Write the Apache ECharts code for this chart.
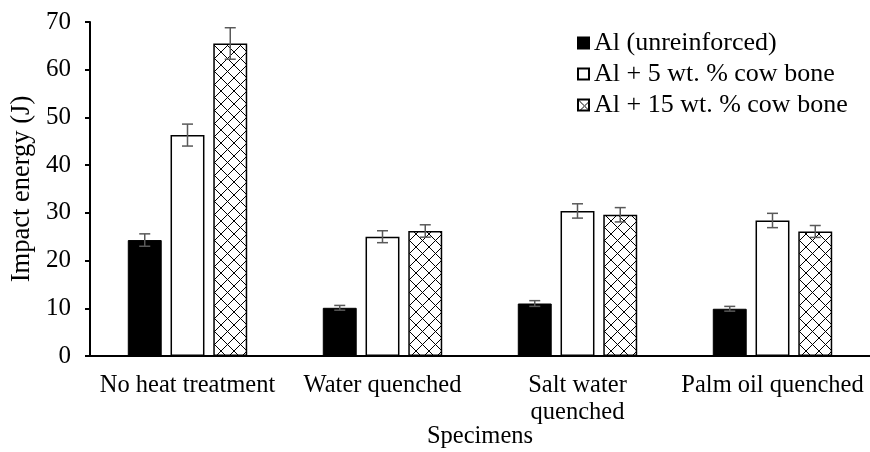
<!DOCTYPE html>
<html>
<head>
<meta charset="utf-8">
<script src="https://cdn.jsdelivr.net/npm/echarts@6/dist/echarts.min.js"></script>
<style>html,body{margin:0;padding:0;background:#fff;}#c{width:870px;height:452px;}</style>
</head>
<body>
<div id="c"></div>
<script>
var categories = ['No heat treatment', 'Water quenched', 'Salt water\nquenched', 'Palm oil quenched'];
var seriesNames = ['Al (unreinforced)', 'Al + 5 wt. % cow bone', 'Al + 15 wt. % cow bone'];
var alValues = [24.3, 10.1, 11.0, 9.9];
var al5Values = [46.3, 25.0, 30.4, 28.4];
var al15Values = [65.5, 26.2, 29.6, 26.1];
var alErr = [1.3, 0.5, 0.6, 0.5];
var al5Err = [2.3, 1.25, 1.5, 1.5];
var al15Err = [3.3, 1.3, 1.5, 1.25];
var yTicks = [0, 10, 20, 30, 40, 50, 60, 70];

var FONT = 'Liberation Serif';
var BAR_PCT = 17.4;
var GAP = 0.26;

// crosshatch pattern
var pat = document.createElement('canvas');
pat.width = 13; pat.height = 13;
var pc = pat.getContext('2d');
pc.fillStyle = '#fff'; pc.fillRect(0, 0, 13, 13);
pc.strokeStyle = '#000'; pc.lineWidth = 1;
pc.beginPath();
pc.moveTo(0, 0); pc.lineTo(13, 13);
pc.moveTo(13, 0); pc.lineTo(0, 13);
pc.stroke();

var values = [alValues, al5Values, al15Values];
var errs = [alErr, al5Err, al15Err];
var styles = [
  {color: '#000', borderColor: '#000', borderWidth: 1},
  {color: '#fff', borderColor: '#000', borderWidth: 1.5},
  {color: {image: pat, repeat: 'repeat'}, borderColor: '#000', borderWidth: 1.5}
];

var series = [];
values.forEach(function (vals, si) {
  series.push({
    name: seriesNames[si], type: 'bar', data: vals,
    barWidth: BAR_PCT + '%', barGap: (GAP * 100) + '%',
    itemStyle: styles[si], z: 2
  });
});
values.forEach(function (vals, si) {
  series.push({
    type: 'custom', z: 5, silent: true,
    data: vals.map(function (v, i) { return [i, v, errs[si][i]]; }),
    encode: {x: 0, y: 1},
    renderItem: (function (s) {
      return function (params, api) {
        var ci = api.value(0), v = api.value(1), e = api.value(2);
        var band = api.size([1, 0])[0];
        var bw = band * BAR_PCT / 100;
        var off = (s - 1) * bw * (1 + GAP);
        var x = api.coord([ci, v])[0] + off;
        var yt = api.coord([ci, v + e])[1];
        var yb = api.coord([ci, v - e])[1];
        var cap = 5.5;
        var st = {stroke: '#595959', lineWidth: 1.5};
        return {type: 'group', children: [
          {type: 'line', shape: {x1: x, y1: yt, x2: x, y2: yb}, style: st},
          {type: 'line', shape: {x1: x - cap, y1: yt, x2: x + cap, y2: yt}, style: st},
          {type: 'line', shape: {x1: x - cap, y1: yb, x2: x + cap, y2: yb}, style: st}
        ]};
      };
    })(si)
  });
});

var chart = echarts.init(document.getElementById('c'));
chart.setOption({
  animation: false,
  backgroundColor: '#fff',
  textStyle: {fontFamily: FONT, color: '#000'},
  grid: {left: 90, right: 0, top: 22, bottom: 96, containLabel: false, outerBoundsMode: 'none'},
  legend: {
    orient: 'vertical', left: 572, top: 25,
    icon: 'rect',
    itemWidth: 11, itemHeight: 11, itemGap: 5,
    data: seriesNames,
    textStyle: {fontFamily: FONT, fontSize: 26, color: '#000'}
  },
  xAxis: {
    type: 'category', data: categories,
    name: 'Specimens', nameLocation: 'middle', nameGap: 68, nameMoveOverlap: false,
    nameTextStyle: {fontFamily: FONT, fontSize: 24.5, color: '#000'},
    axisLine: {lineStyle: {color: '#000', width: 2}},
    axisTick: {alignWithLabel: true, length: 4, lineStyle: {color: '#000', width: 2}},
    axisLabel: {fontFamily: FONT, fontSize: 24.5, color: '#000', margin: 16, lineHeight: 27, interval: 0}
  },
  yAxis: {
    type: 'value', min: yTicks[0], max: yTicks[yTicks.length - 1], interval: 10,
    name: 'Impact energy (J)', nameLocation: 'middle', nameGap: 54, nameMoveOverlap: false,
    nameTextStyle: {fontFamily: FONT, fontSize: 26.5, color: '#000'},
    axisLine: {show: true, lineStyle: {color: '#000', width: 2}},
    axisTick: {show: true, length: 5, lineStyle: {color: '#000', width: 2}},
    axisLabel: {fontFamily: FONT, fontSize: 25, color: '#000', margin: 19},
    splitLine: {show: false}
  },
  series: series
});
</script>
</body>
</html>
